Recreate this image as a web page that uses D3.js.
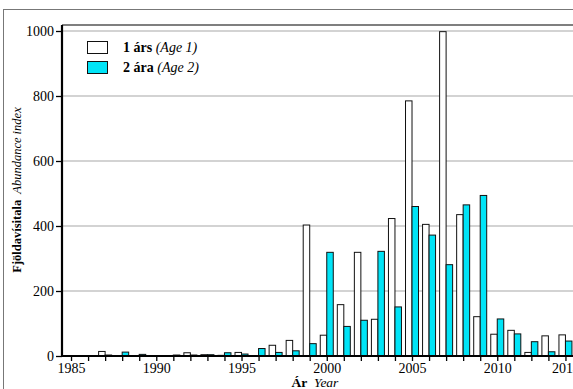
<!DOCTYPE html>
<html><head><meta charset="utf-8">
<script src="https://cdn.jsdelivr.net/npm/d3@7"></script>
<style>
html,body{margin:0;padding:0;background:#fff;overflow:hidden}
svg{display:block}
</style></head>
<body>
<svg id="c" width="573" height="389"></svg>
<script>
const years = [1985,1986,1987,1988,1989,1990,1991,1992,1993,1994,1995,1996,1997,1998,1999,2000,2001,2002,2003,2004,2005,2006,2007,2008,2009,2010,2011,2012,2013,2014];
const age1 = [0,0,14,0,0,0,0,10,4,2,11,0,33,48,403,64,158,319,113,423,785,405,998,435,121,67,79,11,62,65];
const age2 = [0,0,3,12,5,0,3,3,4,10,6,23,11,16,38,319,91,110,322,151,460,372,281,465,494,114,68,44,13,46];
const yTicks = [0,200,400,600,800,1000];
const xLabelYears = [1985,1990,1995,2000,2005,2010,2014];
const seriesNames = [["1 árs","(Age 1)"],["2 ára","(Age 2)"]];
const colors = ["#ffffff","#00e4f7"];

(function(){
const svg = d3.select("#c");
const pLeft = 62, pTop = 25, pBottom = 356;
const x = d3.scaleLinear().domain([1984.5, 2015]).range([62.5, 582.5]);
const y = d3.scaleLinear().domain([0, 1000]).range([pBottom, 31]);
const bw = 6.5;

// outer border
svg.append("rect").attr("x",3.5).attr("y",9.5).attr("width",700).attr("height",500)
  .attr("fill","none").attr("stroke","#777").attr("stroke-width",1);

// gridlines
svg.append("g").selectAll("line").data(yTicks.filter(d=>d>0)).join("line")
  .attr("x1",pLeft).attr("x2",573).attr("y1",d=>y(d)).attr("y2",d=>y(d))
  .attr("stroke","#c4c4c4").attr("stroke-width",1.5);

// top frame line
svg.append("line").attr("x1",pLeft).attr("x2",573).attr("y1",pTop).attr("y2",pTop)
  .attr("stroke","#555").attr("stroke-width",1.5);

// bars
const g = svg.append("g");
g.selectAll("rect.a1").data(years).join("rect").attr("class","a1")
  .attr("x",(d)=>x(d)-bw).attr("width",bw)
  .attr("y",(d,i)=>y(age1[i])).attr("height",(d,i)=>pBottom-y(age1[i]))
  .attr("fill",colors[0]).attr("stroke","#111").attr("stroke-width",1)
  .style("display",(d,i)=>age1[i]>0?null:"none");
g.selectAll("rect.a2").data(years).join("rect").attr("class","a2")
  .attr("x",(d)=>x(d)).attr("width",bw)
  .attr("y",(d,i)=>y(age2[i])).attr("height",(d,i)=>pBottom-y(age2[i]))
  .attr("fill",colors[1]).attr("stroke","#111").attr("stroke-width",1)
  .style("display",(d,i)=>age2[i]>0?null:"none");

// y axis
const yAxis = svg.append("g").attr("transform",`translate(${pLeft},0)`)
  .call(d3.axisLeft(y).tickValues(yTicks).tickSize(6).tickPadding(2).tickFormat(d3.format("d")));
yAxis.attr("font-family",null);
yAxis.select(".domain").remove();
yAxis.selectAll("line").attr("stroke","#000").attr("stroke-width",1.3);
yAxis.selectAll("text").style("font-size","14px").attr("dy","0.34em");

// x axis
const xAxis = svg.append("g").attr("transform",`translate(0,${pBottom})`)
  .call(d3.axisBottom(x).tickValues(years).tickSize(5).tickPadding(2)
    .tickFormat(d=>xLabelYears.includes(d)?d:""));
xAxis.attr("font-family",null);
xAxis.select(".domain").remove();
xAxis.selectAll("line").attr("stroke","#000").attr("stroke-width",1.3);
xAxis.selectAll("text").style("font-size","14px");

// axis lines
svg.append("line").attr("x1",pLeft).attr("x2",pLeft).attr("y1",pTop).attr("y2",pBottom+1)
  .attr("stroke","#000").attr("stroke-width",2.2);
svg.append("line").attr("x1",pLeft-1).attr("x2",573).attr("y1",pBottom).attr("y2",pBottom)
  .attr("stroke","#000").attr("stroke-width",2.2);

// axis titles
const yt = svg.append("text").attr("transform",`translate(21,190) rotate(-90)`)
  .attr("text-anchor","middle").style("font-size","12.5px");
yt.append("tspan").attr("font-weight","bold").text("Fjöldavísitala");
yt.append("tspan").attr("font-style","italic").text("\u00a0 Abundance index");

const xt = svg.append("text").attr("x",315).attr("y",387).attr("text-anchor","middle").style("font-size","13.5px");
xt.append("tspan").attr("font-weight","bold").text("Ár");
xt.append("tspan").attr("font-style","italic").text("\u00a0 Year");

// legend
const leg = svg.append("g");
seriesNames.forEach((s,i)=>{
  const yy = 41.5 + i*20;
  leg.append("rect").attr("x",87.5).attr("y",yy).attr("width",20).attr("height",12)
    .attr("fill",colors[i]).attr("stroke","#111").attr("stroke-width",1);
  const t = leg.append("text").attr("x",123).attr("y",yy+10.5).style("font-size","14px");
  t.append("tspan").attr("font-weight","bold").text(s[0]);
  t.append("tspan").attr("font-style","italic").text(" " + s[1]);
});

svg.selectAll("text, tspan").style("font-family","Liberation Serif").attr("fill","#000");
})();
</script>
</body></html>
